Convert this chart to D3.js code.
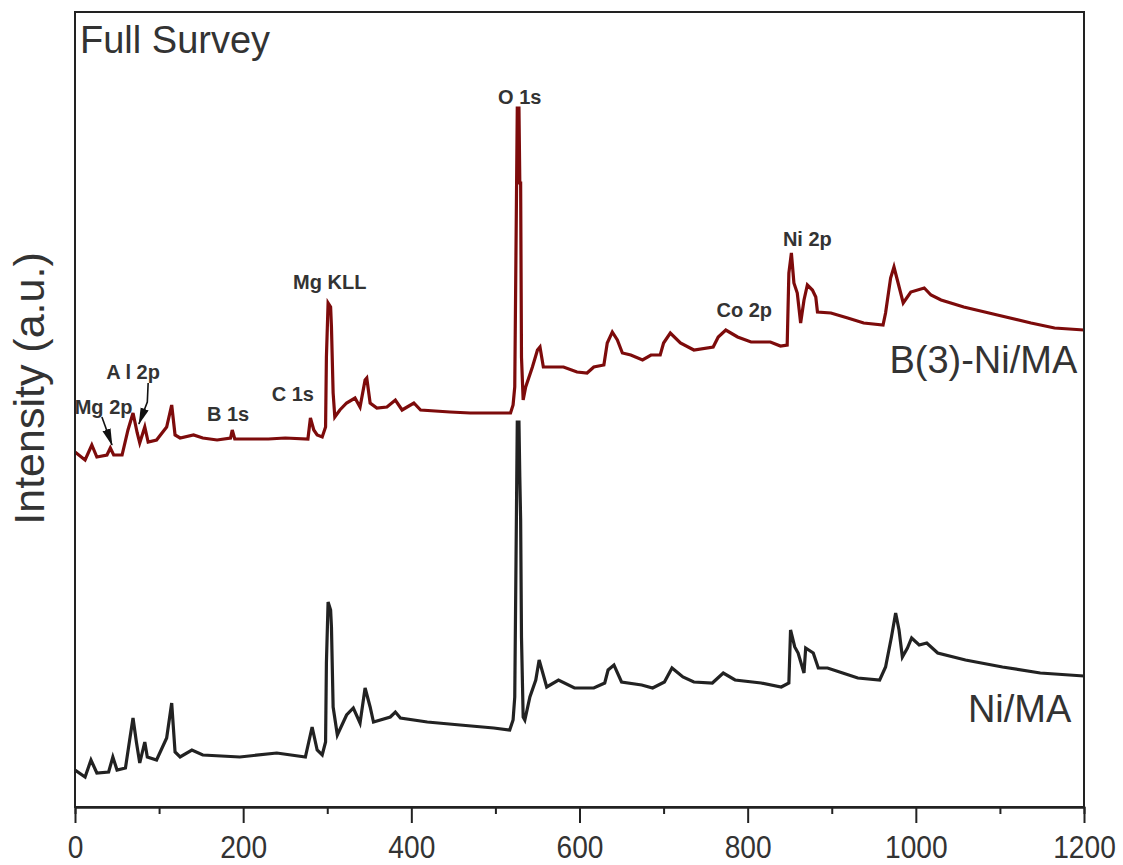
<!DOCTYPE html>
<html>
<head>
<meta charset="utf-8">
<script src="https://cdn.jsdelivr.net/npm/d3@7"></script>
<style>
  body { margin: 0; background: #fff; }
  svg { display: block; }
</style>
</head>
<body>
<svg id="chart" width="1123" height="865"></svg>
<script>
// XPS full survey spectra: binding energy (eV) vs intensity (a.u.)

// B(3)-Ni/MA spectrum
const b3Energy = [0, 12, 20, 26, 38, 42, 46, 56, 63, 69, 74, 77, 83, 87, 97, 109, 115, 119, 125, 141, 152, 169,
  185, 187, 190, 230, 250, 277, 280, 284, 288, 294, 298, 299, 301, 304, 305, 307, 309, 315, 323, 333, 339,
  345, 347, 351, 359, 371, 381, 389, 403, 411, 446, 470, 494, 518, 521, 523, 524.5, 526, 528, 529, 530, 531,
  533, 536, 544, 550, 553, 557, 581, 597, 609, 617, 629, 633, 639, 645, 651, 661, 675, 685, 696, 700, 708,
  720, 736, 759, 765, 774, 788, 804, 827, 839, 847, 849, 852, 855, 859, 863, 867, 871, 877, 881, 883, 899,
  919, 938, 961, 964, 970, 974, 978, 985, 994, 1010, 1018, 1030, 1057, 1097, 1137, 1165, 1200];
const b3Intensity = [355, 347, 362, 350, 352, 359, 352, 352, 377, 394, 374, 364, 380, 365, 367, 380, 402, 372, 369, 372, 369, 367,
  369, 377, 368, 368, 369, 368, 389, 377, 372, 370, 380, 450, 504, 500, 480, 414, 390, 397, 404, 409, 400,
  427, 429, 404, 399, 400, 407, 397, 404, 397, 395, 394, 394, 394, 402, 420, 560, 699, 699, 624, 624, 450,
  407, 420, 440, 457, 460, 440, 440, 435, 434, 440, 442, 464, 475, 467, 454, 452, 447, 452, 452, 464, 474,
  464, 457, 460, 470, 477, 470, 465, 465, 461, 462, 534, 554, 524, 514, 484, 507, 522, 517, 510, 495, 494,
  489, 484, 482, 494, 529, 540, 527, 504, 515, 519, 512, 507, 500, 492, 484, 479, 477];

// Ni/MA spectrum
const niEnergy = [0, 12, 19, 26, 40, 45, 50, 60, 65, 69, 73, 77, 83, 86, 97, 109, 115, 119, 125, 139, 152, 196,
  240, 274, 278, 282, 288, 294, 298, 299, 301, 304, 305, 307, 312, 323, 331, 339, 345, 351, 355, 375, 381,
  387, 419, 458, 498, 517, 521, 523, 524.5, 526, 528, 529, 530, 531, 533, 535, 541, 548, 552, 557, 561, 575,
  594, 617, 630, 634, 641, 650, 674, 687, 701, 710, 723, 736, 758, 771, 785, 816, 840, 849, 851, 856, 860,
  867, 869, 878, 884, 895, 913, 931, 957, 964, 971, 976, 980, 984, 990, 995, 1004, 1013, 1026, 1059, 1103,
  1148, 1200];
const niIntensity = [37, 30, 47, 34, 35, 50, 37, 39, 67, 89, 65, 44, 65, 50, 47, 69, 104, 55, 50, 57, 52, 50,
  54, 50, 65, 80, 57, 52, 65, 144, 205, 197, 180, 100, 72, 92, 99, 84, 119, 100, 85, 90, 95,
  89, 85, 82, 79, 77, 87, 110, 247, 385, 385, 330, 287, 170, 90, 87, 110, 127, 147, 132, 120, 127,
  119, 119, 124, 137, 142, 125, 122, 119, 125, 139, 130, 125, 124, 134, 127, 124, 120, 124, 177, 160, 154,
  134, 159, 154, 139, 139, 134, 129, 127, 140, 170, 194, 177, 150, 159, 169, 162, 164, 154, 147, 140,
  134, 131];

// Peak assignments: label, anchor energy, anchor intensity
const peakLabels = ["O 1s", "Ni 2p", "Co 2p", "Mg KLL", "C 1s", "B 1s", "A l 2p", "Mg 2p"];
const peakLabelEnergy = [529, 871, 796, 303, 259, 182, 69, 34];
const peakLabelIntensity = [703, 561, 490, 518, 406, 386, 428, 393];

// Pointer arrows for the low-energy peaks (energy/intensity vertices)
const arrowEnergy = [[32, 44], [87, 86, 76]];
const arrowIntensity = [[390, 362], [424, 405, 383]];

// Sample names
const sampleNames = ["B(3)-Ni/MA", "Ni/MA"];
const sampleNameEnergy = [1192, 1185];
const sampleNameIntensity = [434, 85];

// Axis ticks
const majorTicks = [0, 200, 400, 600, 800, 1000, 1200];
const minorTicks = [100, 300, 500, 700, 900, 1100];

const colors = { b3: "#7d0b0b", ni: "#222222", frame: "#222222", text: "#333333" };

const svg = d3.select("#chart");
const W = 1123, H = 865;
const margin = { left: 75, top: 12, right: 39, bottom: 58 };
const innerW = W - margin.left - margin.right;
const innerH = H - margin.top - margin.bottom;

const x = d3.scaleLinear().domain([0, 1200]).range([0, innerW]);
const y = d3.scaleLinear().domain([0, 795]).range([innerH, 0]);

const g = svg.append("g").attr("transform", `translate(${margin.left},${margin.top})`);

const defs = svg.append("defs");
defs.append("clipPath").attr("id", "plotClip")
  .append("rect").attr("width", innerW).attr("height", innerH);

// Long, narrow filled arrowhead
defs.append("marker")
  .attr("id", "arrowHead")
  .attr("viewBox", "0 0 20 10")
  .attr("refX", 19).attr("refY", 5)
  .attr("markerWidth", 17).attr("markerHeight", 9)
  .attr("markerUnits", "userSpaceOnUse")
  .attr("orient", "auto")
  .append("path").attr("d", "M0,0 L20,5 L0,10 Z").attr("fill", "#111");

const line = d3.line().x(d => x(d[0])).y(d => y(d[1]));

const series = [
  { e: niEnergy, v: niIntensity, color: colors.ni },
  { e: b3Energy, v: b3Intensity, color: colors.b3 }
];

g.append("g").attr("clip-path", "url(#plotClip)")
  .selectAll("path.spectrum")
  .data(series)
  .join("path")
  .attr("class", "spectrum")
  .attr("d", s => line(s.e.map((e, i) => [e, s.v[i]])))
  .attr("fill", "none")
  .attr("stroke", s => s.color)
  .attr("stroke-width", 3.2)
  .attr("stroke-linejoin", "miter");

// Frame
g.append("rect")
  .attr("width", innerW).attr("height", innerH)
  .attr("fill", "none").attr("stroke", colors.frame).attr("stroke-width", 2);

// Bottom axis: major ticks with labels, minor ticks without
const axisMajor = d3.axisBottom(x).tickValues(majorTicks).tickSizeInner(16).tickSizeOuter(0).tickPadding(12)
  .tickFormat(d3.format("d"));
const axisMinor = d3.axisBottom(x).tickValues(minorTicks).tickSize(7).tickFormat("");

const gMinor = g.append("g").attr("transform", `translate(0,${innerH})`).call(axisMinor);
const gMajor = g.append("g").attr("transform", `translate(0,${innerH})`).call(axisMajor);
[gMinor, gMajor].forEach(ax => {
  ax.select(".domain").attr("stroke", colors.frame).attr("stroke-width", 2);
  ax.selectAll(".tick line").attr("stroke", colors.frame).attr("stroke-width", 2);
});
// Condensed tick numerals
gMajor.selectAll(".tick text")
  .attr("fill", colors.text)
  .attr("transform", "scale(0.88,1)")
  .style("font-family", "'Liberation Sans', Arial, sans-serif")
  .style("font-size", "32px");

// Y axis title
svg.append("text")
  .attr("transform", `translate(44,${margin.top + innerH / 2 - 21}) rotate(-90)`)
  .attr("text-anchor", "middle")
  .attr("fill", colors.text)
  .style("font-family", "'Liberation Sans', Arial, sans-serif")
  .style("font-size", "43px")
  .text("Intensity (a.u.)");

// Panel title
g.append("text")
  .attr("x", 5).attr("y", 41)
  .attr("fill", colors.text)
  .style("font-family", "'Liberation Sans', Arial, sans-serif")
  .style("font-size", "38px")
  .text("Full Survey");

// Peak labels
g.selectAll("text.peak")
  .data(peakLabels)
  .join("text")
  .attr("class", "peak")
  .attr("x", (d, i) => x(peakLabelEnergy[i]))
  .attr("y", (d, i) => y(peakLabelIntensity[i]))
  .attr("text-anchor", "middle")
  .attr("fill", colors.text)
  .style("font-family", "'Liberation Sans', Arial, sans-serif")
  .style("font-weight", "bold")
  .style("font-size", "20px")
  .text(d => d);

// Arrows
g.selectAll("path.pointer")
  .data(arrowEnergy.map((es, k) => es.map((e, i) => [e, arrowIntensity[k][i]])))
  .join("path")
  .attr("class", "pointer")
  .attr("d", line)
  .attr("fill", "none")
  .attr("stroke", "#111")
  .attr("stroke-width", 1.6)
  .attr("marker-end", "url(#arrowHead)");

// Sample names
g.selectAll("text.sample")
  .data(sampleNames)
  .join("text")
  .attr("class", "sample")
  .attr("x", (d, i) => x(sampleNameEnergy[i]))
  .attr("y", (d, i) => y(sampleNameIntensity[i]))
  .attr("text-anchor", "end")
  .attr("fill", colors.text)
  .style("font-family", "'Liberation Sans', Arial, sans-serif")
  .style("font-size", "38px")
  .text(d => d);
</script>
</body>
</html>
